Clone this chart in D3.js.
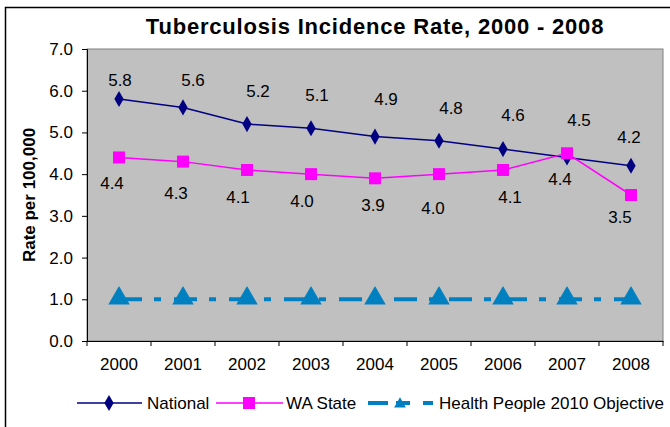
<!DOCTYPE html>
<html>
<head>
<meta charset="utf-8">
<script src="https://cdn.jsdelivr.net/npm/d3@7"></script>
<style>
  body { margin: 0; background: #fff; }
  text { font-family: "Liberation Sans", Arial, sans-serif; }
</style>
</head>
<body>
<svg id="chart" width="670" height="427"></svg>
<script>
// Data
const years = ["2000", "2001", "2002", "2003", "2004", "2005", "2006", "2007", "2008"];
const national = [5.8, 5.6, 5.2, 5.1, 4.9, 4.8, 4.6, 4.4, 4.2];
const waState = [4.4, 4.3, 4.1, 4.0, 3.9, 4.0, 4.1, 4.5, 3.5];
const objective = [1, 1, 1, 1, 1, 1, 1, 1, 1];
const yTicks = [0, 1, 2, 3, 4, 5, 6, 7];

// data label nudges (px from the point), as placed in the original
const nationalLabelDx = [1, 10, 11, 6, 11, 12, 10, -7, -2];
const nationalLabelDy = [-19, -27, -33, -33, -38, -33, -34, 22, -29];
const waLabelDx = [-7, -7, -9, -9, -2, -6, 7, 12, -11];
const waLabelDy = [26, 31, 27, 27, 27, 34, 27, -33, 22];

const svg = d3.select("#chart");
const margin = {top: 49, right: 7, bottom: 86, left: 87};
const width = 670 - margin.left - margin.right;
const height = 427 - margin.top - margin.bottom;

// outer frame
svg.append("rect")
    .attr("x", 5.5).attr("y", 7.5)
    .attr("width", 700).attr("height", 440)
    .attr("fill", "#fff").attr("stroke", "#000").attr("stroke-width", 1.5);

const g = svg.append("g").attr("transform", `translate(${margin.left},${margin.top})`);

// Scales
const x = d3.scaleBand().domain(years).range([0, width]);
const y = d3.scaleLinear().domain([0, 7]).range([height, 0]);
const cx = d => x(d) + x.bandwidth() / 2;

// plot area
g.append("rect")
    .attr("width", width).attr("height", height)
    .attr("fill", "#c0c0c0").attr("stroke", "#808080");

// Axes
const xAxis = g.append("g")
    .attr("transform", `translate(0,${height})`)
    .call(d3.axisBottom(x).tickSize(0).tickPadding(17));
xAxis.select(".domain").attr("stroke", "#000");
xAxis.selectAll("text").attr("font-size", 17).attr("fill", "#000");
// tick marks between categories
xAxis.selectAll(".sep")
    .data(d3.range(years.length + 1))
    .enter().append("line")
    .attr("x1", i => i * x.step()).attr("x2", i => i * x.step())
    .attr("y1", 0).attr("y2", 5)
    .attr("stroke", "#000");

const yAxis = g.append("g")
    .call(d3.axisLeft(y).tickValues(yTicks).tickFormat(d3.format(".1f")).tickSize(5).tickPadding(9));
yAxis.select(".domain").attr("stroke", "#000");
yAxis.selectAll("line").attr("stroke", "#000");
yAxis.selectAll("text").attr("font-size", 17).attr("fill", "#000");

// Title
svg.append("text")
    .attr("x", margin.left + width / 2).attr("y", 34)
    .attr("text-anchor", "middle")
    .attr("font-size", 22).attr("font-weight", "bold")
    .attr("letter-spacing", 0.8)
    .text("Tuberculosis Incidence Rate, 2000 - 2008");

// Y label
svg.append("text")
    .attr("transform", `translate(35,${margin.top + height / 2}) rotate(-90)`)
    .attr("text-anchor", "middle")
    .attr("font-size", 17).attr("font-weight", "bold")
    .text("Rate per 100,000");

const line = d3.line()
    .x((d, i) => cx(years[i]))
    .y(d => y(d));

// Objective line (long dash - short dash)
g.append("path")
    .datum(objective)
    .attr("fill", "none").attr("stroke", "#0080c0")
    .attr("stroke-width", 4).attr("stroke-dasharray", "23,12,7,13")
    .attr("d", line);
const tri = d3.symbol().type(d3.symbolTriangle).size(200);
g.selectAll(".tri").data(objective).enter().append("path")
    .attr("transform", (d, i) => `translate(${cx(years[i])},${y(d) - 1})`)
    .attr("d", tri).attr("fill", "#0080c0");

// National
g.append("path")
    .datum(national)
    .attr("fill", "none").attr("stroke", "#000080").attr("stroke-width", 1.5)
    .attr("d", line);
const diamond = d3.symbol().type(d3.symbolDiamond).size(75);
g.selectAll(".dia").data(national).enter().append("path")
    .attr("transform", (d, i) => `translate(${cx(years[i])},${y(d)})`)
    .attr("d", diamond).attr("fill", "#000080");

// WA State
g.append("path")
    .datum(waState)
    .attr("fill", "none").attr("stroke", "#ff00ff").attr("stroke-width", 1.5)
    .attr("d", line);
g.selectAll(".sq").data(waState).enter().append("rect")
    .attr("x", (d, i) => cx(years[i]) - 6).attr("y", d => y(d) - 6)
    .attr("width", 12).attr("height", 12).attr("fill", "#ff00ff");

// data labels
const fmt = d3.format(".1f");
g.selectAll(".nl").data(national).enter().append("text")
    .attr("x", (d, i) => cx(years[i]) + nationalLabelDx[i])
    .attr("y", (d, i) => y(d) + nationalLabelDy[i] + 6)
    .attr("text-anchor", "middle").attr("font-size", 17)
    .text(fmt);
g.selectAll(".wl").data(waState).enter().append("text")
    .attr("x", (d, i) => cx(years[i]) + waLabelDx[i])
    .attr("y", (d, i) => y(d) + waLabelDy[i] + 6)
    .attr("text-anchor", "middle").attr("font-size", 17)
    .text(fmt);

// Legend
const lg = svg.append("g").attr("transform", "translate(0,403)");
lg.append("line").attr("x1", 77).attr("x2", 142).attr("stroke", "#000080").attr("stroke-width", 1.5);
lg.append("path").attr("transform", "translate(109,0)").attr("d", diamond).attr("fill", "#000080");
lg.append("text").attr("x", 147).attr("y", 6).attr("font-size", 17).text("National");
lg.append("line").attr("x1", 216).attr("x2", 283).attr("stroke", "#ff00ff").attr("stroke-width", 1.5);
lg.append("rect").attr("x", 243).attr("y", -6).attr("width", 12).attr("height", 12).attr("fill", "#ff00ff");
lg.append("text").attr("x", 286).attr("y", 6).attr("font-size", 17).text("WA State");
lg.append("line").attr("x1", 368).attr("x2", 388).attr("stroke", "#0080c0").attr("stroke-width", 4);
lg.append("line").attr("x1", 396).attr("x2", 410).attr("stroke", "#0080c0").attr("stroke-width", 4);
lg.append("path").attr("transform", "translate(400,1)").attr("d", d3.symbol().type(d3.symbolTriangle).size(60)).attr("fill", "#0080c0");
lg.append("line").attr("x1", 423).attr("x2", 433).attr("stroke", "#0080c0").attr("stroke-width", 4);
lg.append("text").attr("x", 439).attr("y", 6).attr("font-size", 17).text("Health People 2010 Objective");
</script>
</body>
</html>
